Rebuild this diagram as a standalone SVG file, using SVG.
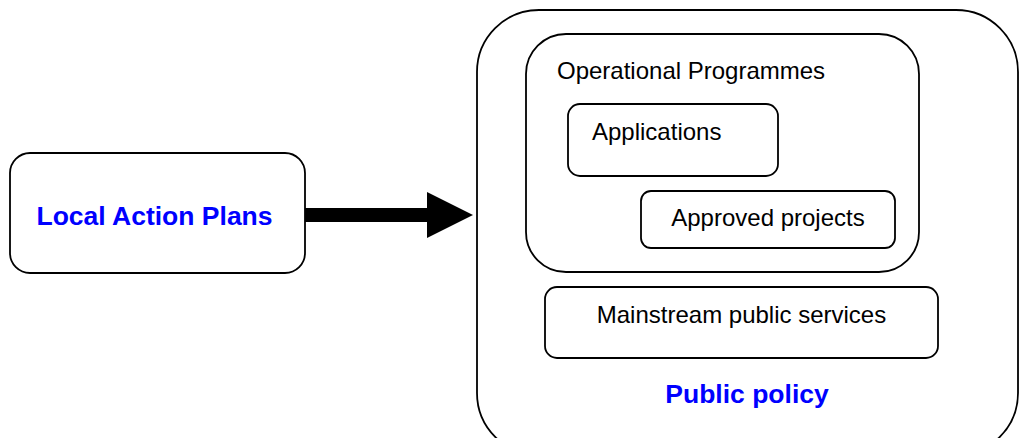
<svg xmlns="http://www.w3.org/2000/svg" width="1021" height="438" viewBox="0 0 1021 438">
  <style>
    .box { fill: #ffffff; stroke: #000000; stroke-width: 1.8; }
    .lbl { font-family: "Liberation Sans", Arial, sans-serif; font-size: 24px; fill: #000000; }
    .key { font-family: "Liberation Sans", Arial, sans-serif; font-size: 26.5px; font-weight: bold; fill: #0000ff; }
  </style>
  <rect width="1021" height="438" fill="#ffffff"/>

  <!-- Source: local plans -->
  <g id="local-action-plans">
    <rect class="box" x="10" y="153" width="295" height="120" rx="20" ry="20"/>
    <text class="key" x="154.5" y="225" text-anchor="middle">Local Action Plans</text>
  </g>

  <!-- Target: public policy container and its contents -->
  <g id="public-policy">
    <rect class="box" x="477" y="10" width="541" height="445" rx="62" ry="62"/>
    <text class="key" x="747" y="403" text-anchor="middle">Public policy</text>
  </g>

  <g id="operational-programmes">
    <rect class="box" x="526" y="34" width="393" height="238" rx="40" ry="40"/>
    <text class="lbl" x="557" y="79">Operational Programmes</text>
  </g>

  <g id="applications">
    <rect class="box" x="568" y="104" width="210" height="72" rx="12" ry="12"/>
    <text class="lbl" x="592" y="140">Applications</text>
  </g>

  <g id="approved-projects">
    <rect class="box" x="641" y="191" width="254" height="57" rx="10" ry="10"/>
    <text class="lbl" x="768" y="226" text-anchor="middle">Approved projects</text>
  </g>

  <g id="mainstream-services">
    <rect class="box" x="545" y="287" width="393" height="71" rx="12" ry="12"/>
    <text class="lbl" x="741.5" y="323" text-anchor="middle">Mainstream public services</text>
  </g>

  <!-- Connector -->
  <g id="connectors">
    <rect x="305" y="208" width="124" height="14" fill="#000000"/>
    <polygon points="427,192 473,215 427,238" fill="#000000"/>
  </g>
</svg>
